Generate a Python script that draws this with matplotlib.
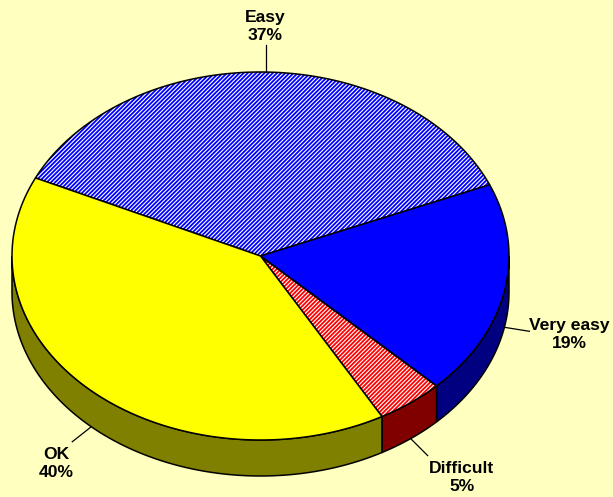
import numpy as np
import matplotlib
matplotlib.use("Agg")
import matplotlib.pyplot as plt
from matplotlib.patches import Polygon

# ---- data (clockwise from the start angle) ----
categories = ["Easy", "Very easy", "Difficult", "OK"]
values = [36.7, 18.8, 4.4, 40.1]
pct_labels = ["37%", "19%", "5%", "40%"]

# ---- style ----
top_colors = ["white", "#0000FF", "white", "#FFFF00"]
hatch_colors = ["#0000FF", None, "#FF0000", None]
side_colors = ["#000080", "#000080", "#800000", "#808000"]
bg = "#FFFFC0"

plt.rcParams["hatch.linewidth"] = 1.3
plt.rcParams["font.family"] = ["Liberation Sans", "DejaVu Sans"]

W, H = 613, 497
fig = plt.figure(figsize=(W / 100, H / 100), dpi=100)
fig.patch.set_facecolor(bg)
ax = fig.add_axes([0, 0, 1, 1])
ax.set_xlim(0, W)
ax.set_ylim(H, 0)
ax.axis("off")

cx, cy, rx, ry, depth = 260.5, 256.0, 248.5, 184.0, 36.0
start = 154.9


def pt(a, dz=0.0):
    r = np.deg2rad(a)
    return cx + rx * np.cos(r), cy - ry * np.sin(r) + dz


total = sum(values)
angles = []
a = start
for v in values:
    a2 = a - v / total * 360.0
    angles.append((a, a2))
    a = a2

# side walls (front half only)
for (a1, a2), sc in zip(angles, side_colors):
    lo, hi = a2, a1
    for shift in (0, 360, -360):
        l, h = lo + shift, hi + shift
        l2, h2 = max(l, -180), min(h, 0)
        if h2 > l2:
            th = np.linspace(l2, h2, 80)
            top = [pt(t) for t in th]
            bot = [pt(t, depth) for t in th[::-1]]
            ax.add_patch(Polygon(top + bot, closed=True, facecolor=sc,
                                 edgecolor="black", lw=1.1, zorder=1))

# top faces
for (a1, a2), fc, hc in zip(angles, top_colors, hatch_colors):
    th = np.linspace(a1, a2, 200)
    poly = [(cx, cy)] + [pt(t) for t in th]
    if hc is not None:
        ax.add_patch(Polygon(poly, closed=True, facecolor=fc, edgecolor=hc,
                             hatch="////////", lw=0, zorder=2))
        ax.add_patch(Polygon(poly, closed=True, facecolor="none",
                             edgecolor="black", lw=1.1, zorder=3))
    else:
        ax.add_patch(Polygon(poly, closed=True, facecolor=fc,
                             edgecolor="black", lw=1.1, zorder=3))

# labels with leader lines
label_layout = {
    "Easy": dict(end=(0, -27), text=(0, -29), ha="center", va="bottom"),
    "Very easy": dict(end=(25, 4), text=(65, 7), ha="center", va="center"),
    "Difficult": dict(end=(17, 17), text=(51, 22), ha="center", va="top"),
    "OK": dict(end=(-19, 15), text=(-35, 20), ha="center", va="top"),
}
for (a1, a2), cat, pl in zip(angles, categories, pct_labels):
    mid = (a1 + a2) / 2.0
    front = np.sin(np.deg2rad(mid)) < 0
    x0, y0 = pt(mid, depth if front else 0.0)
    L = label_layout[cat]
    ex, ey = x0 + L["end"][0], y0 + L["end"][1]
    ax.plot([x0, ex], [y0, ey], color="black", lw=0.9, zorder=4)
    ax.text(x0 + L["text"][0], y0 + L["text"][1], f"{cat}\n{pl}",
            ha=L["ha"], va=L["va"], fontsize=12.6, fontweight="bold",
            linespacing=1.25, multialignment="center", zorder=5)

fig.savefig("out.png", dpi=100, facecolor=bg)
